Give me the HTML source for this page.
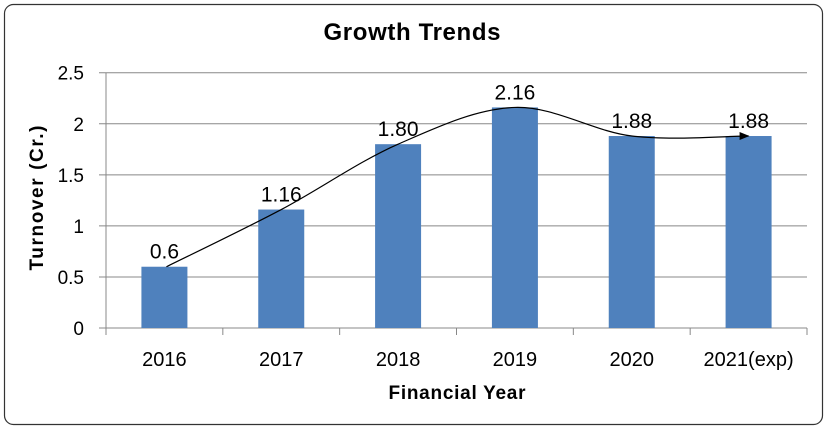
<!DOCTYPE html>
<html><head><meta charset="utf-8"><style>
body{margin:0;background:#fff;}
svg{display:block;font-family:"Liberation Sans",sans-serif;}
</style></head><body>
<svg width="827" height="430">
<rect x="4.5" y="4.5" width="818" height="420" rx="9" fill="#fff" stroke="#333" stroke-width="1.2"/>
<text x="412" y="40" text-anchor="middle" font-size="24" font-weight="bold" textLength="177">Growth Trends</text>
<g id="grid"></g>
<g id="bars"></g>
<g id="labels"></g>
<path id="trend" fill="none" stroke="#000" stroke-width="1.2" marker-end="url(#arr)"/>
<defs><marker id="arr" markerWidth="10" markerHeight="8" refX="9" refY="4" orient="auto" markerUnits="userSpaceOnUse"><path d="M0,0 L10,4 L0,8 Z" fill="#000"/></marker></defs>
<text transform="translate(43,198) rotate(-90)" text-anchor="middle" font-size="19" font-weight="bold" textLength="145">Turnover (Cr.)</text>
<text x="457" y="399" text-anchor="middle" font-size="19" font-weight="bold" textLength="137">Financial Year</text>
</svg>
<script>
const categories=["2016","2017","2018","2019","2020","2021(exp)"];
const values=[0.6,1.16,1.80,2.16,1.88,1.88];
const valueLabels=["0.6","1.16","1.80","2.16","1.88","1.88"];
const yTicks=[0,0.5,1,1.5,2,2.5];
const tickLabels=["0","0.5","1","1.5","2","2.5"];
const NS="http://www.w3.org/2000/svg";
const L=106,R=807,T=72.7,B=328,maxV=2.5;
const band=(R-L)/categories.length;
const y=v=>B-(v/maxV)*(B-T);
const xc=i=>L+band*(i+0.5);
function mk(t,a,p){const e=document.createElementNS(NS,t);for(const k in a)e.setAttribute(k,a[k]);p.appendChild(e);return e;}
const grid=document.getElementById('grid'),bars=document.getElementById('bars'),labels=document.getElementById('labels');
yTicks.forEach((v,i)=>{
 const l=mk('line',{x1:99,x2:R,y1:y(v),y2:y(v),stroke:'#888','stroke-width':1},grid);
 
 
 const t=mk('text',{x:84,y:y(v)+7,'text-anchor':'end','font-size':19},grid);t.textContent=tickLabels[i];
 
 
});
const ax=mk('line',{x1:L,x2:L,y1:T,y2:B,stroke:'#888'},grid);


for(let i=0;i<=categories.length;i++){
 const tk=mk('line',{x1:L+band*i,x2:L+band*i,y1:B,y2:B+7,stroke:'#888'},grid);
 
 
}
const bw=46;
categories.forEach((c,i)=>{
 const r=mk('rect',{x:xc(i)-bw/2,y:y(values[i]),width:bw,height:B-y(values[i]),fill:'#4f81bd'},bars);
 
 
 const vl=mk('text',{x:xc(i),y:y(values[i])-8,'text-anchor':'middle','font-size':21},labels);vl.textContent=valueLabels[i];
 
 
 const cl=mk('text',{x:xc(i),y:366,'text-anchor':'middle','font-size':20},labels);cl.textContent=c;
 
 
});
const pts=values.map((v,i)=>[xc(i),y(v)]);
pts[0][0]+=2;
let d='M'+pts[0][0]+','+pts[0][1];
for(let i=0;i<pts.length-1;i++){
 const p0=pts[Math.max(0,i-1)],p1=pts[i],p2=pts[i+1],p3=pts[Math.min(pts.length-1,i+2)];
 const c1=[p1[0]+(p2[0]-p0[0])/6,p1[1]+(p2[1]-p0[1])/6],c2=[p2[0]-(p3[0]-p1[0])/6,p2[1]-(p3[1]-p1[1])/6];
 d+=` C${c1[0]},${c1[1]} ${c2[0]},${c2[1]} ${p2[0]},${p2[1]}`;
}
document.getElementById('trend').setAttribute('d',d);
</script>
</body></html>
